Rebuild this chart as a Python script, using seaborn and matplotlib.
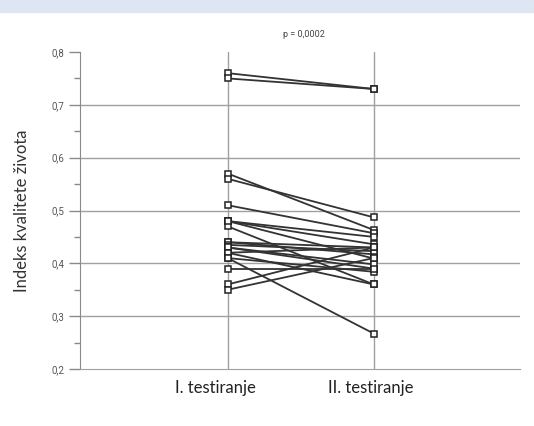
import pandas as pd
import matplotlib.pyplot as plt
import seaborn as sns
from matplotlib.patches import Rectangle
from matplotlib.ticker import MultipleLocator
from matplotlib.transforms import ScaledTranslation

# -----------------------------------------
#  Quality of life index, two test sessions
# -----------------------------------------

time_labels = ["I. testiranje", "II. testiranje"]
first_test = [0.76, 0.75, 0.57, 0.56, 0.51, 0.48, 0.48, 0.47, 0.48, 0.44,
              0.44, 0.435, 0.43, 0.43, 0.42, 0.42, 0.41, 0.41, 0.39, 0.36, 0.35]
second_test = [0.73, 0.73, 0.463, 0.487, 0.457, 0.45, 0.436, 0.36, 0.409, 0.43,
               0.417, 0.423, 0.39, 0.398, 0.43, 0.36, 0.267, 0.384, 0.39, 0.43, 0.41]
y_ticks = [0.2, 0.3, 0.4, 0.5, 0.6, 0.7, 0.8]
y_tick_labels = ["0,2", "0,3", "0,4", "0,5", "0,6", "0,7", "0,8"]
p_text = "p = 0,0002"

rows = []
for i, (a, b) in enumerate(zip(first_test, second_test)):
    rows.append({"subject": i, "time": time_labels[0], "value": a})
    rows.append({"subject": i, "time": time_labels[1], "value": b})
df = pd.DataFrame(rows)

sns.set_style("white")
plt.rcParams["font.family"] = ["Lato", "DejaVu Sans"]

fig = plt.figure(figsize=(5.34, 4.26), dpi=100)
fig.patches.append(Rectangle((0, 1 - 12 / 426), 1, 12 / 426, transform=fig.transFigure,
                             color="#dfe6f3", zorder=0))
ax = fig.add_axes([80 / 534, 57 / 426, 440 / 534, 317 / 426])

# ------------------------------
# Grid lines (none at the top value)
# ------------------------------
for y in y_ticks[1:-1]:
    ax.axhline(y, color="#a0a0a0", lw=1.0, zorder=1)
for x in range(len(time_labels)):
    ax.axvline(x, color="#a0a0a0", lw=1.0, zorder=1)

# ------------------------------
# Paired lines
# ------------------------------
sns.lineplot(data=df, x="time", y="value", units="subject", estimator=None,
             color="#333333", lw=1.3, marker="s", markersize=4.5,
             markerfacecolor="white", markeredgecolor="#222222", markeredgewidth=1.1,
             ax=ax, zorder=3, legend=False)

ax.set_xlim(-1.01, 2.0)
ax.set_ylim(0.2, 0.8)
ax.set_yticks(y_ticks)
ax.set_yticklabels(y_tick_labels, fontsize=7, color="#555555", family="Roboto")
ax.yaxis.set_minor_locator(MultipleLocator(0.05))
ax.tick_params(axis="y", which="major", left=True, length=8, width=1, color="#8a8a8a", pad=3)
ax.tick_params(axis="y", which="minor", left=True, length=4, width=1, color="#8a8a8a")
ax.tick_params(axis="x", length=0, pad=8, labelsize=12, labelcolor="#222222")

# first category label sits a little left of its line in the original
xlabels = ax.get_xticklabels()
xlabels[0].set_transform(xlabels[0].get_transform() + ScaledTranslation(-0.12, 0, fig.dpi_scale_trans))
xlabels[1].set_transform(xlabels[1].get_transform() + ScaledTranslation(-0.03, 0, fig.dpi_scale_trans))

for side in ["top", "right"]:
    ax.spines[side].set_visible(False)
ax.spines["left"].set_color("#8a8a8a")
ax.spines["bottom"].set_color("#a0a0a0")

ax.set_xlabel("")
ax.set_ylabel("Indeks kvalitete života", fontsize=12, color="#333333", labelpad=16)
ax.text(0.525, 0.834, p_text, ha="center", va="center", fontsize=6.5, color="#444444",
        family="Roboto")

plt.savefig("out.png", dpi=100)
